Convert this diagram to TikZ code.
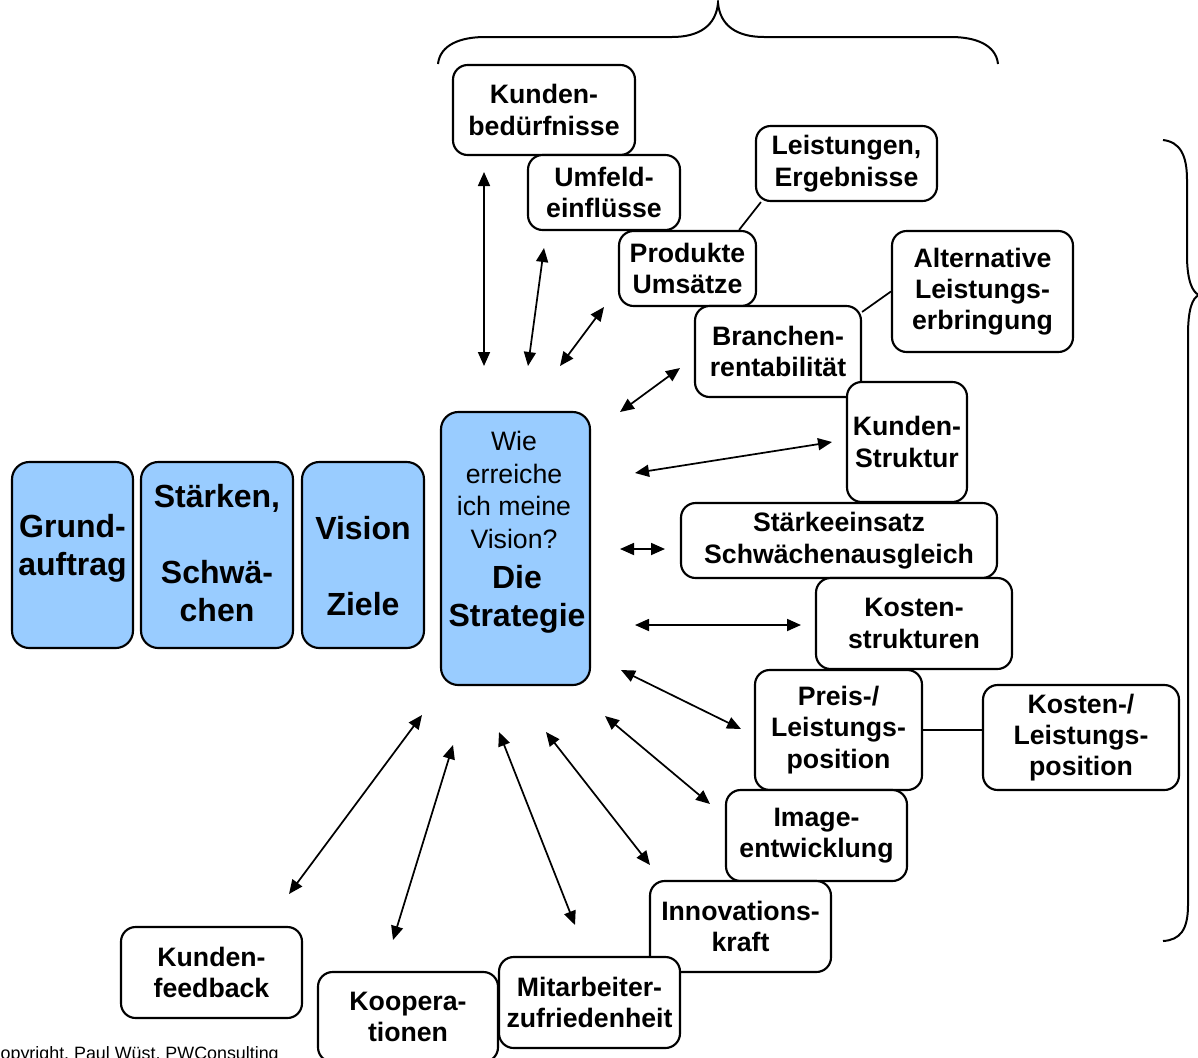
\documentclass[tikz,border=0pt]{standalone}
\usepackage{fontspec}
\setmainfont{Liberation Sans}
\usetikzlibrary{arrows.meta,calc}
\definecolor{boxblue}{RGB}{153,204,255}
\begin{document}
\begin{tikzpicture}[x=0.75pt,y=-0.75pt,
  wh/.style 2 args={minimum width=#1*0.75pt, minimum height=#2*0.75pt},
  wbox/.style={draw, line width=1.6pt, rounded corners=11pt, fill=white, align=center, inner sep=0pt, font=\bfseries\fontsize{20}{23.5}\selectfont},
  bbox/.style={draw, line width=1.6pt, rounded corners=13pt, fill=boxblue, inner sep=0pt},
  btxt/.style={align=center, inner sep=0pt, font=\bfseries\fontsize{24}{28.5}\selectfont},
  qtxt/.style={align=center, inner sep=0pt, font=\fontsize{20}{24.3}\selectfont},
  arr/.style={{Triangle[length=10.5pt,width=9pt]}-{Triangle[length=10.5pt,width=9pt]}, line width=1.3pt},
  link/.style={line width=1.3pt},
  brace/.style={line width=1.5pt}]
\useasboundingbox (0,0) rectangle (1198,1057);
\clip (0,0) rectangle (1198,1057);

% braces
\draw[brace] (438,64) .. controls (440,45) and (460,37) .. (485,37) -- (672,37)
  .. controls (700,37) and (716,25) .. (718,3)
  .. controls (720,25) and (736,37) .. (764,37) -- (951,37)
  .. controls (976,37) and (996,45) .. (998,64);
\draw[brace] (1163,140) .. controls (1180,142) and (1187,155) .. (1187,180) -- (1187,255)
  .. controls (1187,280) and (1192,292) .. (1199,295)
  .. controls (1192,298) and (1188,310) .. (1188,335) -- (1188,905)
  .. controls (1188,930) and (1180,940) .. (1163,941);

% blue boxes
\node[bbox, wh={121}{186}] (ga) at (72.5,555) {};
\node[btxt] (gat) at (72.5,548) {Grund-\\auftrag};
\node[bbox, wh={152}{186}] (sw) at (217,555) {};
\node[btxt] (swt) at (217,553) {Stärken,\\~\\Schwä-\\chen};
\node[bbox, wh={122}{186}] (vz) at (363,555) {};
\node[btxt] (vzt) at (363,566) {Vision\\~\\Ziele};
\node[bbox, wh={149}{273}] (sg) at (515.5,548.5) {};
\node[qtxt] (sgq) at (514,490) {Wie\\erreiche\\ich meine\\Vision?};
\node[btxt] (sgd) at (517,599) {Die\\Strategie};

% white boxes
\node[wbox, wh={182}{90}] (kb) at (544,110) {Kunden-\\bedürfnisse};
\node[wbox, wh={152}{75}] (uf) at (604,192.5) {Umfeld-\\einflüsse};
\node[wbox, wh={181}{75}] (le) at (846.5,163.5) {Leistungen,\\Ergebnisse};
\node[wbox, wh={137}{75}] (pu) at (687.5,268.5) {Produkte\\Umsätze};
\node[wbox, wh={181}{121}] (al) at (982.5,291.5) {Alternative\\Leistungs-\\erbringung};
\node[wbox, wh={166}{91}] (br) at (778,351.5) {Branchen-\\rentabilität};
\node[wbox, wh={120}{120}] (ks) at (907,442) {Kunden-\\Struktur};
\node[wbox, wh={316}{75}] (st) at (839,540.5) {Stärkeeinsatz\\Schwächenausgleich};
\node[wbox, wh={196}{91}] (ko) at (914,623.5) {Kosten-\\strukturen};
\node[wbox, wh={167}{120}] (pr) at (838.5,730) {Preis-/\\Leistungs-\\position};
\node[wbox, wh={196}{105}] (kl) at (1081,737.5) {Kosten-/\\Leistungs-\\position};
\node[wbox, wh={181}{91}] (im) at (816.5,835.5) {Image-\\entwicklung};
\node[wbox, wh={181}{91}] (in) at (740.5,926.5) {Innovations-\\kraft};
\node[wbox, wh={181}{91}] (mz) at (589.5,1002.5) {Mitarbeiter-\\zufriedenheit};
\node[wbox, wh={180}{90}] (kp) at (408,1017) {Koopera-\\tionen};
\node[wbox, wh={181}{91}] (kf) at (211.5,972.5) {Kunden-\\feedback};

% plain links
\draw[link] ($(le.south west)+(6,0)$) -- ($(pu.north east)+(-18,0)$);
\draw[link] (al.west) -- ($(br.north east)+(0,7)$);
\draw[link] (pr.east) -- (pr.east -| kl.west);

% arrow end points
\coordinate (a1s) at (484,172);  \coordinate (a1e) at (484,366);
\coordinate (a2s) at (544,248);  \coordinate (a2e) at (528,366);
\coordinate (a3s) at (604,307);  \coordinate (a3e) at (560,366);
\coordinate (a4s) at (680,368);  \coordinate (a4e) at (620,412);
\coordinate (a5s) at (832,442);  \coordinate (a5e) at (635,473);
\coordinate (a6s) at (620,549);  \coordinate (a6e) at (665,549);
\coordinate (a7s) at (635,625);  \coordinate (a7e) at (801,625);
\coordinate (a8s) at (621,670);  \coordinate (a8e) at (741,729);
\coordinate (a9s) at (605,716);  \coordinate (a9e) at (710,804);
\coordinate (a10s) at (546,732); \coordinate (a10e) at (650,865);
\coordinate (a11s) at (499,732); \coordinate (a11e) at (575,925);
\coordinate (a12s) at (453,745); \coordinate (a12e) at (393,940);
\coordinate (a13s) at (422,715); \coordinate (a13e) at (289,894);
\foreach \i in {1,...,13} {\draw[arr] (a\i s) -- (a\i e);}

% copyright
\node[anchor=base west, inner sep=0pt, font=\fontsize{13.4}{16}\selectfont] (copy) at (-12.5,1059) {Copyright, Paul Wüst, PWConsulting};
\end{tikzpicture}
\end{document}
